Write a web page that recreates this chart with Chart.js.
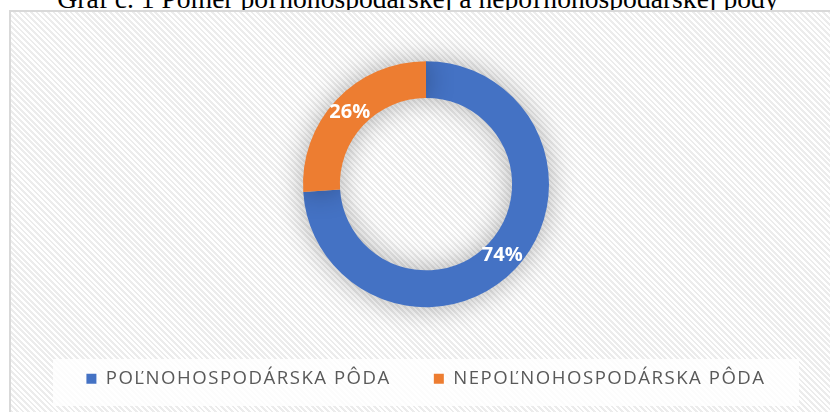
<!DOCTYPE html>
<html>
<head>
<meta charset="utf-8">
<script src="https://cdn.jsdelivr.net/npm/chart.js@4/dist/chart.umd.min.js"></script>
<style>
  html, body { margin: 0; padding: 0; background: #fff; overflow: hidden; }
  body { width: 830px; height: 412px; position: relative; }
  #title {
    position: absolute; left: 0; width: 836px; top: -15px; line-height: 28px;
    text-align: center; white-space: nowrap;
    font-family: "Liberation Serif", "Times New Roman", serif; font-size: 27.6px; color: #000;
  }
  #box {
    position: absolute; left: 9px; top: 10px; width: 830px; height: 420px;
    border: 2px solid #d9d9d9;
    background: repeating-linear-gradient(45deg, #ffffff 0px, #ffffff 2px, #ececec 2px, #ececec 4px);
  }
  #wrap { position: absolute; left: 0; top: 0; width: 830px; height: 400px; }
</style>
</head>
<body>
<div id="title">Graf č. 1 Pomer poľnohospodárskej a nepoľnohospodárskej pôdy</div>
<div id="box"><div id="wrap"><canvas id="pieChart"></canvas></div></div>
<script>
document.addEventListener("DOMContentLoaded", () => {
    const categories = ["POĽNOHOSPODÁRSKA PÔDA", "NEPOĽNOHOSPODÁRSKA PÔDA"];
    const shares = [74, 26];
    const colors = ["#4472C4", "#ED7D31"];

    // legend text is letter-spaced like the office chart style
    const spacing = {
        id: "spacing",
        beforeLayout(chart) { chart.ctx.letterSpacing = "1.5px"; },
        beforeDraw(chart) { chart.ctx.letterSpacing = "1.5px"; }
    };

    // white panel behind the legend
    const legendPanel = {
        id: "legendPanel",
        beforeDraw(chart) {
            const ctx = chart.ctx;
            ctx.save();
            ctx.fillStyle = "rgba(255,255,255,0.85)";
            ctx.fillRect(42, 347, 746, 47);
            ctx.restore();
        }
    };

    // soft shadow round the ring
    const ringShadow = {
        id: "ringShadow",
        beforeDatasetsDraw(chart) {
            const ctx = chart.ctx;
            ctx.save();
            ctx.shadowColor = "rgba(0,0,0,0.30)";
            ctx.shadowBlur = 28;
        },
        afterDatasetsDraw(chart) {
            chart.ctx.restore();
        }
    };

    // percentage labels on the ring
    const valueLabels = {
        id: "valueLabels",
        afterDatasetsDraw(chart) {
            const ctx = chart.ctx;
            const meta = chart.getDatasetMeta(0);
            ctx.save();
            ctx.letterSpacing = "0px";
            ctx.fillStyle = "#ffffff";
            ctx.font = "bold 20px 'Open Sans'";
            ctx.textAlign = "center";
            ctx.textBaseline = "middle";
            meta.data.forEach((arc, i) => {
                const p = arc.tooltipPosition();
                ctx.fillText(shares[i] + "%", p.x, p.y);
            });
            ctx.restore();
        }
    };

    const ctx = document.getElementById("pieChart").getContext("2d");
    new Chart(ctx, {
        type: "doughnut",
        data: {
            labels: categories,
            datasets: [{
                data: shares,
                backgroundColor: colors,
                borderWidth: 0,
                hoverOffset: 0
            }]
        },
        options: {
            responsive: true,
            maintainAspectRatio: false,
            animation: false,
            cutout: "70%",
            radius: 123,
            layout: { padding: { top: 30, bottom: 14, left: 0, right: 0 } },
            plugins: {
                tooltip: { enabled: false },
                legend: {
                    position: "bottom",
                    labels: {
                        boxWidth: 10,
                        boxHeight: 10,
                        padding: 43,
                        color: "#595959",
                        font: { family: "'Open Sans'", size: 18.6 }
                    }
                }
            }
        },
        plugins: [spacing, legendPanel, ringShadow, valueLabels]
    });
});
</script>
</body>
</html>
